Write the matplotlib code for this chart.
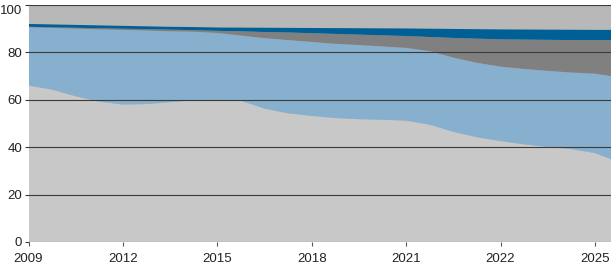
import matplotlib
matplotlib.use("Agg")
import matplotlib.pyplot as plt
import numpy as np

# x positions in tick units (one unit per labelled tick)
x = [0, 0.25, 0.5, 0.75, 1, 1.25, 1.5, 1.75, 2, 2.25, 2.5, 2.75, 3, 3.25,
     3.5, 3.75, 4, 4.25, 4.5, 4.75, 5, 5.25, 5.5, 5.75, 6, 6.17]
tick_pos = [0, 1, 2, 3, 4, 5, 6]
tick_labels = ["2009", "2012", "2015", "2018", "2021", "2022", "2025"]

series_light_gray = [66.0, 64.3, 61.5, 59.2, 58.0, 58.2, 59.0, 59.8, 60.0, 59.6, 56.3, 54.3, 53.2,
                     52.3, 51.8, 51.6, 51.2, 49.5, 46.5, 44.2, 42.6, 41.2, 40.1, 39.2, 37.5, 35.0]
series_light_blue = [24.6, 26.0, 28.5, 30.5, 31.5, 31.0, 29.9, 28.9, 28.2, 27.5, 29.7, 30.9, 31.2,
                     31.3, 31.3, 30.9, 30.7, 31.0, 31.3, 31.4, 31.4, 31.8, 32.1, 32.3, 33.5, 35.0]
series_dark_gray = [0.2, 0.3, 0.4, 0.5, 0.5, 0.6, 0.7, 0.7, 0.9, 1.8, 2.6, 3.2, 3.7,
                    4.2, 4.4, 4.7, 5.0, 6.0, 8.3, 10.2, 11.5, 12.4, 13.1, 13.7, 14.2, 15.2]
series_dark_blue = [1.2, 1.2, 1.2, 1.2, 1.2, 1.2, 1.2, 1.3, 1.4, 1.55, 1.8, 1.95, 2.2,
                    2.45, 2.7, 2.95, 3.2, 3.5, 3.8, 4.0, 4.2, 4.25, 4.3, 4.35, 4.3, 4.3]

y_ticks = [0, 20, 40, 60, 80, 100]

colors = ["#c8c8c8", "#87b0cf", "#808081", "#005f95"]

plt.rcParams['font.family'] = ['Liberation Sans', 'DejaVu Sans']

fig = plt.figure(figsize=(6.12, 2.66), dpi=100)
ax = fig.add_axes([28.5 / 612, 1 - 242 / 266, (611 - 28.5) / 612, 237 / 266])
ax.set_facecolor("#b8b8b8")

ax.stackplot(x, series_light_gray, series_light_blue, series_dark_gray, series_dark_blue,
             colors=colors, linewidth=0)

ax.set_xlim(0, 6.17)
ax.set_ylim(0, 100)
ax.set_yticks(y_ticks)
ax.set_xticks(tick_pos)
ax.set_xticklabels(tick_labels)

ax.set_axisbelow(False)
ax.yaxis.grid(True, color="#3a3a3a", linewidth=0.8)
ax.xaxis.grid(False)

for s in ax.spines.values():
    s.set_visible(False)

ax.tick_params(axis="y", length=3, width=0.8, color="#3a3a3a", pad=1.5, labelsize=9.5,
               labelcolor="#222222")
ax.tick_params(axis="x", length=3, width=0.8, color="#555555", pad=5, labelsize=9.5,
               labelcolor="#222222")

# keep the top label inside the figure
for lbl in ax.get_yticklabels():
    if lbl.get_text() == "100":
        lbl.set_verticalalignment("top")

fig.savefig("out.png", dpi=100, facecolor="white")
